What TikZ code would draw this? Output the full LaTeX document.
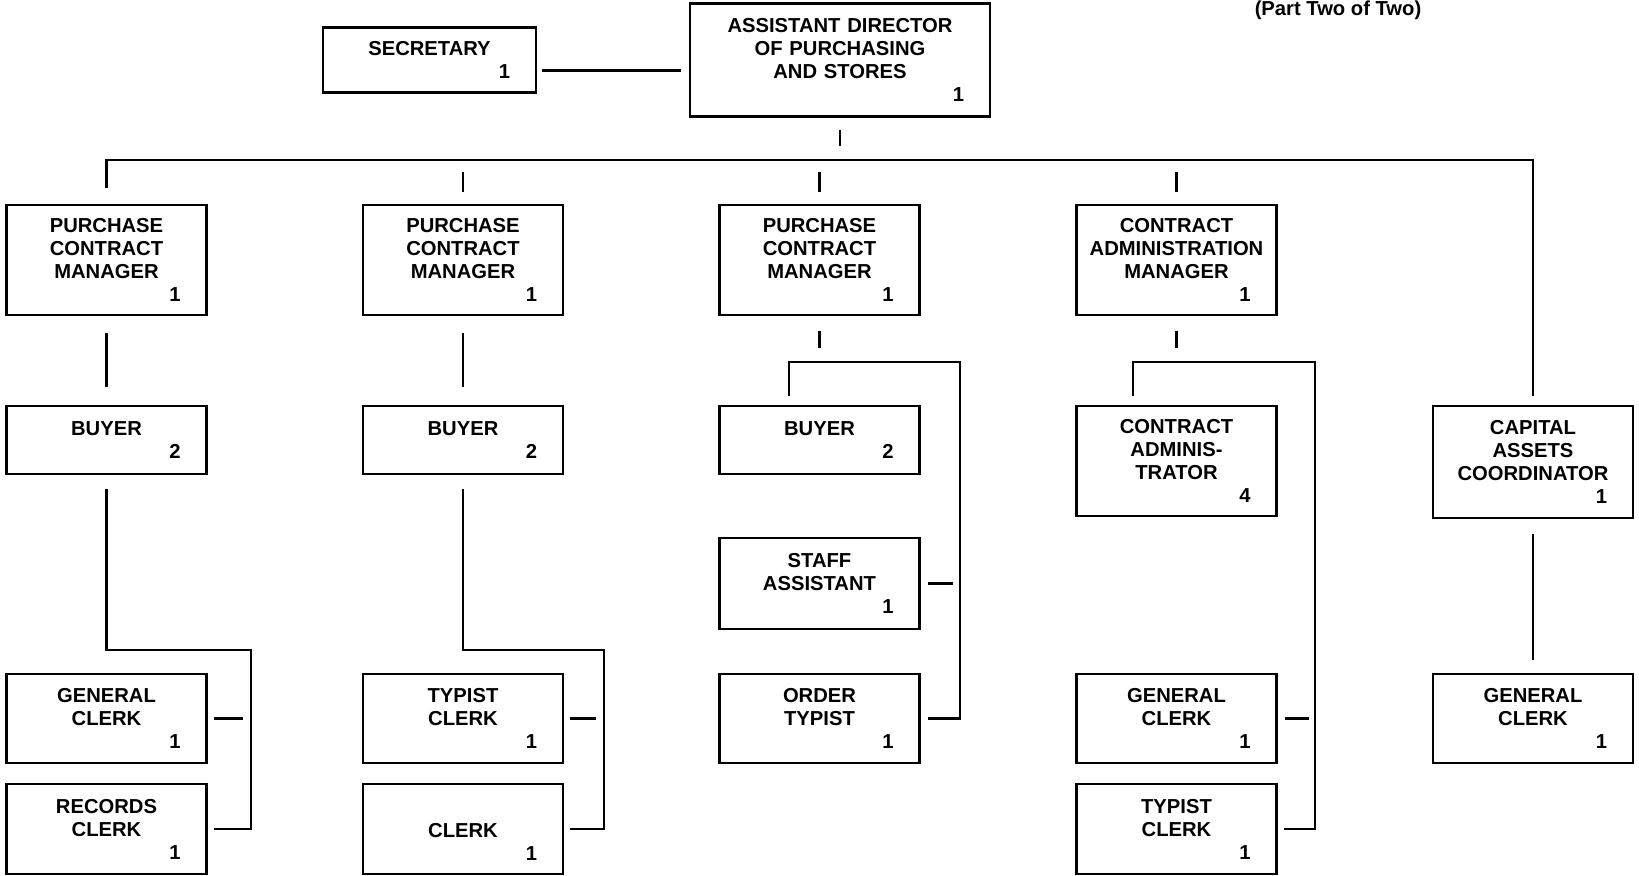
\documentclass[tikz,border=0pt]{standalone}
\usepackage{fontspec}
\setmainfont{Liberation Sans}
\newcommand{\headcnt}[1]{\hfill#1\kern0.42cm}

\begin{document}
\begin{tikzpicture}[font=\fontsize{11.5}{13.1}\selectfont\bfseries,
          blk/.style={draw, line width=1.3pt, inner xsep=0.1cm, inner ysep=0pt,
                      text width=3.8cm, minimum height=#1, align=center},
          blk/.default=1.8cm,
          wire/.style={line width=1.3pt},
          tick/.style={wire, shorten <=0.24cm, shorten >=0.24cm}]
  \useasboundingbox (0,0) rectangle (32.78,17.52);
  \node[anchor=north, inner sep=0pt] (part) at (26.76,17.50) {(Part Two of Two)};

  % top
  \node[blk=1.30cm, text width=4.06cm] (sec) at (8.59,16.32) {SECRETARY\\\headcnt{1}};
  \node[blk=2.26cm, text width=5.8cm] (asd) at (16.80,16.32)
    {ASSISTANT DIRECTOR\\OF PURCHASING\\AND STORES\\\headcnt{1}};

  % managers
  \node[blk=2.2cm] (pcm1) at (2.13,12.32) {PURCHASE\\CONTRACT\\MANAGER\\\headcnt{1}};
  \node[blk=2.2cm] (pcm2) at (9.26,12.32) {PURCHASE\\CONTRACT\\MANAGER\\\headcnt{1}};
  \node[blk=2.2cm] (pcm3) at (16.39,12.32) {PURCHASE\\CONTRACT\\MANAGER\\\headcnt{1}};
  \node[blk=2.2cm] (cam) at (23.53,12.32) {CONTRACT\\ADMINISTRATION\\MANAGER\\\headcnt{1}};

  % second row
  \node[blk=1.36cm] (buy1) at (2.13,8.72) {BUYER\\\headcnt{2}};
  \node[blk=1.36cm] (buy2) at (9.26,8.72) {BUYER\\\headcnt{2}};
  \node[blk=1.36cm] (buy3) at (16.39,8.72) {BUYER\\\headcnt{2}};
  \node[blk=2.2cm] (cadm) at (23.53,8.30) {CONTRACT\\ADMINIS-\\TRATOR\\\headcnt{4}};
  \node[blk=2.24cm] (cac) at (30.66,8.28) {CAPITAL\\ASSETS\\COORDINATOR\\\headcnt{1}};
  \node[blk=1.82cm] (stf) at (16.39,5.85) {STAFF\\ASSISTANT\\\headcnt{1}};

  % clerks
  \node[blk=1.78cm] (gcl1) at (2.13,3.15) {GENERAL\\CLERK\\\headcnt{1}};
  \node[blk=1.78cm] (tcl2) at (9.26,3.15) {TYPIST\\CLERK\\\headcnt{1}};
  \node[blk=1.78cm] (otp3) at (16.39,3.15) {ORDER\\TYPIST\\\headcnt{1}};
  \node[blk=1.78cm] (gcl4) at (23.53,3.15) {GENERAL\\CLERK\\\headcnt{1}};
  \node[blk=1.78cm] (gcl5) at (30.66,3.15) {GENERAL\\CLERK\\\headcnt{1}};
  \node[blk] (rcl1) at (2.13,0.94) {RECORDS\\CLERK\\\headcnt{1}};
  \node[blk] (clk2) at (9.26,0.94) {\strut\\CLERK\\\headcnt{1}};
  \node[blk] (tcl4) at (23.53,0.94) {TYPIST\\CLERK\\\headcnt{1}};

  \coordinate (bus) at (16.80,14.32);
  \coordinate (r1) at (5.02,4.52);
  \coordinate (r2) at (12.08,4.52);
  \coordinate (r3) at (19.20,10.28);
  \coordinate (r4) at (26.30,10.28);

  \draw[wire, shorten <=0.1cm, shorten >=0.16cm] ([yshift=-0.21cm]sec.east) -- ([yshift=-0.21cm]asd.west);
  \draw[tick, shorten >=0.28cm] (asd.south) -- (asd.south |- bus);
  \draw[wire, shorten <=0.32cm, shorten >=0.18cm] (pcm1.north) |- (bus) -| (cac.north);
  \draw[tick] (pcm2.north |- bus) -- (pcm2.north);
  \draw[tick] (pcm3.north |- bus) -- (pcm3.north);
  \draw[tick] (cam.north |- bus) -- (cam.north);

  \draw[wire, shorten <=0.34cm, shorten >=0.36cm] (pcm1.south) -- (buy1.north);
  \draw[wire, shorten <=0.34cm, shorten >=0.36cm] (pcm2.south) -- (buy2.north);
  \draw[wire, shorten <=0.30cm, shorten >=0.28cm] (pcm3.south) -- (pcm3.south |- r3);
  \draw[wire, shorten <=0.30cm, shorten >=0.28cm] (cam.south) -- (cam.south |- r4);

  \draw[wire, shorten <=0.28cm, shorten >=0.12cm] (buy1.south) |- (r1) |- (rcl1.east);
  \draw[wire, shorten <=0.12cm, shorten >=0.16cm] (gcl1.east) -- (gcl1.east -| r1);
  \draw[wire, shorten <=0.28cm, shorten >=0.12cm] (buy2.south) |- (r2) |- (clk2.east);
  \draw[wire, shorten <=0.12cm, shorten >=0.16cm] (tcl2.east) -- (tcl2.east -| r2);

  \draw[wire, shorten <=0.18cm, shorten >=0.14cm] ([xshift=-0.61cm]buy3.north) |- (r3) |- (otp3.east);
  \draw[wire, shorten <=0.14cm, shorten >=0.14cm] (stf.east) -- (stf.east -| r3);
  \draw[wire, shorten <=0.18cm, shorten >=0.12cm] ([xshift=-0.87cm]cadm.north) |- (r4) |- (tcl4.east);
  \draw[wire, shorten <=0.14cm, shorten >=0.12cm] (gcl4.east) -- (gcl4.east -| r4);

  \draw[wire, shorten <=0.30cm, shorten >=0.26cm] (cac.south) -- (gcl5.north);
\end{tikzpicture}
\end{document}
